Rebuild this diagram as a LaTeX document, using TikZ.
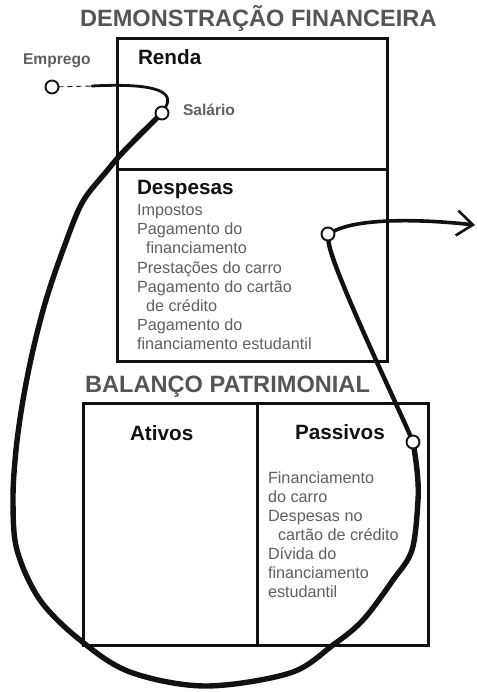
\documentclass[tikz,border=0pt]{standalone}
\usepackage{fontspec}
\setmainfont{Liberation Sans}
\usetikzlibrary{arrows.meta}
\definecolor{ttlgray}{HTML}{555555}
\definecolor{txtgray}{HTML}{5F5F5F}
\definecolor{ink}{HTML}{111111}
\pgfdeclarelayer{front}
\pgfsetlayers{main,front}
\begin{document}
\begin{tikzpicture}[x=1pt,y=-1pt,
  every node/.style={inner sep=0pt, outer sep=0pt},
  ttl/.style={anchor=base west, text=ttlgray, font=\fontsize{23.6}{28}\selectfont\bfseries},
  hdr/.style={anchor=base west, text=ink, font=\fontsize{20.7}{24}\selectfont\bfseries},
  itm/.style={anchor=base west, text=txtgray, font=\fontsize{16.2}{19}\selectfont},
  lbl/.style={anchor=base west, text=txtgray, font=\fontsize{15.6}{18}\selectfont\bfseries},
  box/.style={draw=ink, line width=3pt, rectangle},
  dot/.style={circle, draw=ink, fill=white, line width=1.9pt, minimum size=13pt},
  flow/.style={draw=ink, line width=5.4pt, line cap=round, line join=round},
]
\useasboundingbox (0,0) rectangle (476,692);

% titles
\node[ttl] (t1) at (80,27) {DEMONSTRAÇÃO FINANCEIRA};
\node[ttl] (t2) at (85,392) {BALANÇO PATRIMONIAL};

% boxes
\node[box, minimum width=270pt, minimum height=131pt] (rendabox) at (252,104.5) {};
\node[box, minimum width=270pt, minimum height=191pt] (despbox) at (252,265.5) {};
\node[box, minimum width=174pt, minimum height=242pt] (ativbox) at (170,524) {};
\node[box, minimum width=171pt, minimum height=242pt] (passbox) at (342.5,524) {};

% headers
\node[hdr] (hrenda) at (138,65) {Renda};
\node[hdr] (hdesp) at (137,195) {Despesas};
\node[hdr] (hativ) at (130,440) {Ativos};
\node[hdr] (hpass) at (295,439) {Passivos};

% labels
\node[lbl] (lemp) at (23,65) {Emprego};
\node[lbl] (lsal) at (183,116) {Salário};

% expense items
\node[itm] (d1) at (137,216) {Impostos};
\node[itm] (d2) at (137,235) {Pagamento do};
\node[itm] (d3) at (146,254) {financiamento};
\node[itm] (d4) at (137,273) {Prestações do carro};
\node[itm] (d5) at (137,292) {Pagamento do cartão};
\node[itm] (d6) at (146,311) {de crédito};
\node[itm] (d7) at (137,330) {Pagamento do};
\node[itm] (d8) at (137,349) {financiamento estudantil};

% liability items
\node[itm] (p1) at (268,483) {Financiamento};
\node[itm] (p2) at (268,502) {do carro};
\node[itm] (p3) at (268,521) {Despesas no};
\node[itm] (p4) at (278,540) {cartão de crédito};
\node[itm] (p5) at (268,559) {Dívida do};
\node[itm] (p6) at (268,578) {financiamento};
\node[itm] (p7) at (268,597) {estudantil};

% circles
\begin{pgfonlayer}{front}
\node[dot] (emp) at (52,87) {};
\node[dot] (sal) at (162,113) {};
\node[dot] (desp) at (328,234) {};
\node[dot] (pass) at (413,442) {};
\end{pgfonlayer}

\coordinate (e1) at (92,86);
\coordinate (tip) at (475,225);

% Emprego -> Salario
\draw[ink, line width=0.9pt, dash pattern=on 5pt off 4pt] (emp) -- (e1);
\draw[ink, line width=2.8pt, line cap=round] (e1) .. controls (150,83) and (176,90) .. (sal);

% big loop Salario -> Passivos
\draw[flow] plot[smooth, tension=0.55] coordinates {
  (sal) (125,150) (106,172) (82,203) (63,250) (46,300) (33,350) (23,400)
  (16,450) (13,500) (17,550) (40,600) (80,640) (130,672) (205,686)
  (290,673) (333,645) (363,620) (393,580) (412,550) (418,500) (417,470) (pass)};

% Passivos -> Despesas
\draw[ink, line width=4.4pt, line cap=round] (pass) .. controls (395,400) and (330,265) .. (desp);

% Despesas -> out
\draw[ink, line width=3.6pt, -{Straight Barb[length=16pt, width=25pt, line width=2.6pt]}]
  (desp) .. controls (360,218) and (420,219) .. (tip);

\end{tikzpicture}
\end{document}
